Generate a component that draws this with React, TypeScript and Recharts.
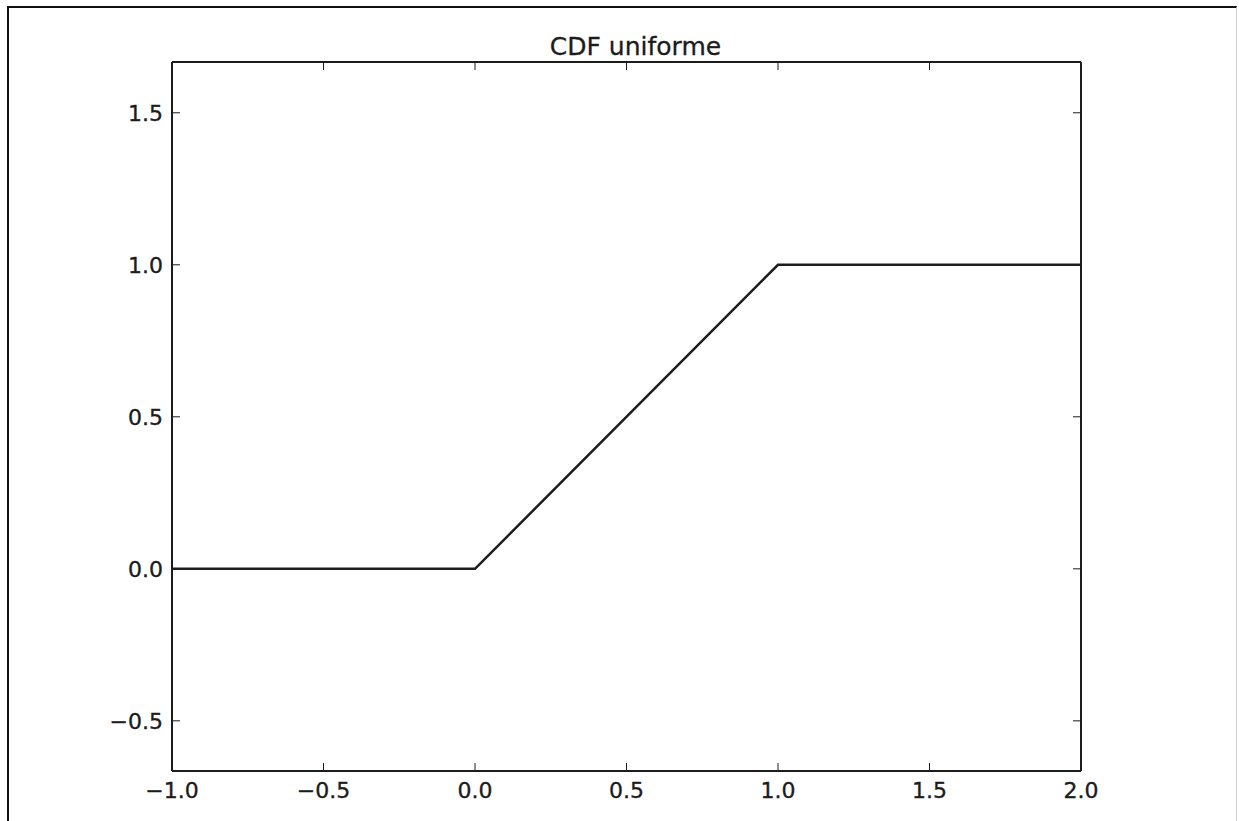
import React from "react";
import { LineChart, Line, XAxis, YAxis } from "recharts";

// CDF of the uniform distribution on [0, 1]
const xValues = [-1, 0, 1, 2];
const cdfValues = [0, 0, 1, 1];
const xTicks = [-1, -0.5, 0, 0.5, 1, 1.5, 2];
const yTicks = [-0.5, 0, 0.5, 1, 1.5];

const data = xValues.map((x, i) => ({ x, cdf: cdfValues[i] }));

const INK = "#1c1c1c";
const FONT = "'DejaVu Sans', sans-serif";
const TICK_LEN = 8;

const fmt = (v: number) => {
  const s = Math.abs(v).toFixed(1);
  return v < 0 ? `\u2212${s}` : s;
};

// bottom: tick mark goes up into the plot, label below
const BottomTick = (props: any) => {
  const { x, y, payload } = props;
  return (
    <g>
      <line x1={x} y1={y} x2={x} y2={y - TICK_LEN} stroke={INK} strokeWidth={1} />
      <text
        x={x}
        y={y + 11}
        dy="0.71em"
        textAnchor="middle"
        fill={INK}
        stroke={INK}
        strokeWidth={0.35}
        fontSize={22}
        fontFamily={FONT}
      >
        {fmt(payload.value)}
      </text>
    </g>
  );
};

const LeftTick = (props: any) => {
  const { x, y, payload } = props;
  return (
    <g>
      <line x1={x} y1={y} x2={x + TICK_LEN} y2={y} stroke={INK} strokeWidth={1} />
      <text
        x={x - 9}
        y={y}
        dy="0.355em"
        textAnchor="end"
        fill={INK}
        stroke={INK}
        strokeWidth={0.35}
        fontSize={22}
        fontFamily={FONT}
      >
        {fmt(payload.value)}
      </text>
    </g>
  );
};

const TopTick = (props: any) => {
  const { x, y } = props;
  return <line x1={x} y1={y} x2={x} y2={y + TICK_LEN} stroke={INK} strokeWidth={1} />;
};

const RightTick = (props: any) => {
  const { x, y } = props;
  return <line x1={x} y1={y} x2={x - TICK_LEN} y2={y} stroke={INK} strokeWidth={1} />;
};

const axisLine = { stroke: INK, strokeWidth: 2 };

export default function App() {
  return (
    <div style={{ position: "absolute", left: 0, top: 0, width: 1239, height: 821, overflow: "hidden", background: "#fff" }}>
      <div
        style={{
          position: "absolute",
          left: 7,
          top: 6,
          width: 1227,
          height: 840,
          borderLeft: "2px solid #111",
          borderTop: "2px solid #111",
          borderRight: "1px solid #d0d0d0",
        }}
      />
      <div
        style={{
          position: "absolute",
          left: 181,
          top: 34,
          width: 909,
          textAlign: "center",
          fontFamily: FONT,
          fontSize: 25,
          lineHeight: "25px",
          color: INK,
          WebkitTextStroke: "0.3px #1c1c1c",
        }}
      >
        CDF uniforme
      </div>
      <div style={{ position: "absolute", left: 0, top: 0 }}>
        <LineChart width={1239} height={821} data={data} margin={{ top: 61, right: 157, bottom: 10, left: 112 }}>
          <XAxis
            xAxisId="bottom"
            dataKey="x"
            type="number"
            domain={[-1, 2]}
            allowDataOverflow
            ticks={xTicks}
            interval={0}
            height={40}
            tickSize={0}
            tickMargin={0}
            tickLine={false}
            axisLine={axisLine}
            tick={<BottomTick />}
          />
          <XAxis
            xAxisId="top"
            orientation="top"
            dataKey="x"
            type="number"
            domain={[-1, 2]}
            allowDataOverflow
            ticks={xTicks}
            interval={0}
            height={1}
            tickSize={0}
            tickMargin={0}
            tickLine={false}
            axisLine={axisLine}
            tick={<TopTick />}
          />
          <YAxis
            yAxisId="left"
            type="number"
            domain={[-0.665, 1.667]}
            allowDataOverflow
            ticks={yTicks}
            interval={0}
            width={60}
            tickSize={0}
            tickMargin={0}
            tickLine={false}
            axisLine={axisLine}
            tick={<LeftTick />}
          />
          <YAxis
            yAxisId="right"
            orientation="right"
            type="number"
            domain={[-0.665, 1.667]}
            allowDataOverflow
            ticks={yTicks}
            interval={0}
            width={1}
            tickSize={0}
            tickMargin={0}
            tickLine={false}
            axisLine={axisLine}
            tick={<RightTick />}
          />
          <Line
            xAxisId="bottom"
            yAxisId="left"
            type="linear"
            dataKey="cdf"
            stroke={INK}
            strokeWidth={2.5}
            dot={false}
            activeDot={false}
            isAnimationActive={false}
          />
        </LineChart>
      </div>
    </div>
  );
}
